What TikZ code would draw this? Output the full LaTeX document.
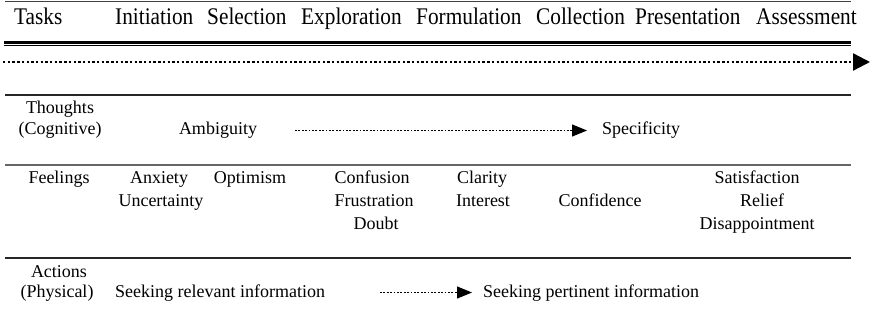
\documentclass[tikz,border=0pt]{standalone}
\usepackage{fontspec}
\setmainfont{Liberation Serif}
\usetikzlibrary{arrows.meta}
% header words are set slightly taller than wide
\newcommand{\tallword}[1]{\scalebox{1}[1.12]{#1}}
\begin{document}
\begin{tikzpicture}[x=1pt,y=-1pt,
  head/.style={anchor=base west,inner sep=0pt,font=\fontsize{21.3}{26}\selectfont},
  cell/.style={anchor=base,inner sep=0pt,font=\fontsize{18}{22}\selectfont},
  cellw/.style={anchor=base west,inner sep=0pt,font=\fontsize{18}{22}\selectfont},
  rule/.style={line width=1.1pt,black!85},
  bigflow/.style={line width=2.4pt,dash pattern=on 2.4pt off 2.3pt,
    -{Triangle[length=17pt,width=17pt]}},
  flow/.style={line width=1.2pt,dash pattern=on 1.8pt off 1.6pt,
    -{Triangle[length=15pt,width=12pt]}}]
\useasboundingbox (0,0) rectangle (870,329);

% header row
\node[head] (tasks) at (14,24.5) {\tallword{Tasks}};
\node[head] (init)  at (115,24.5) {\tallword{Initiation}};
\node[head] (sel)   at (207,24.5) {\tallword{Selection}};
\node[head] (expl)  at (301,24.5) {\tallword{Exploration}};
\node[head] (form)  at (416,24.5) {\tallword{Formulation}};
\node[head] (coll)  at (536,24.5) {\tallword{Collection}};
\node[head] (pres)  at (635,24.5) {\tallword{Presentation}};
\node[head] (assm)  at (756,24.5) {\tallword{Assessment}};

% rules
\draw[line width=0.9pt,black!75] (5,1.7) -- (851,1.7);
\draw[line width=2.2pt] (4,42.6) -- (851,42.6);
\draw[line width=1.1pt] (4,45.6) -- (851,45.6);
\draw[rule] (5,95) -- (851,95);
\draw[line width=1.4pt,black!60] (5,165) -- (851,165);
\draw[rule] (5,258) -- (851,258);

% overall process arrow
\coordinate (pa) at (3,62);
\coordinate (pb) at (870,62);
\draw[bigflow] (pa) -- (pb);

% thoughts
\node[cell] (th1) at (60,113) {Thoughts};
\node[cell] (th2) at (60,134) {(Cognitive)};
\node[cell] (amb) at (218,134) {Ambiguity};
\node[cellw] (spec) at (602,134) {Specificity};
\coordinate (ta) at (295,130.5);
\coordinate (tb) at (587,130.5);
\draw[flow] (ta) -- (tb);

% feelings
\node[cell] (fe)   at (59,183) {Feelings};
\node[cell] (anx)  at (159,183) {Anxiety};
\node[cell] (unc)  at (161,206) {Uncertainty};
\node[cell] (opt)  at (250,183) {Optimism};
\node[cell] (conf) at (372,183) {Confusion};
\node[cell] (frus) at (374,206) {Frustration};
\node[cell] (doub) at (376,229) {Doubt};
\node[cell] (clar) at (482,183) {Clarity};
\node[cell] (intr) at (483,206) {Interest};
\node[cell] (cfd)  at (600,206) {Confidence};
\node[cell] (sat)  at (757,183) {Satisfaction};
\node[cell] (rel)  at (762,206) {Relief};
\node[cell] (dis)  at (757,229) {Disappointment};

% actions
\node[cell] (ac1) at (59,277) {Actions};
\node[cell] (ac2) at (57,297) {(Physical)};
\node[cellw] (rel2) at (115,297) {Seeking relevant information};
\node[cellw] (pert) at (483,297) {Seeking pertinent information};
\coordinate (aa) at (380,292.5);
\coordinate (ab) at (472,292.5);
\draw[flow] (aa) -- (ab);
\end{tikzpicture}
\end{document}
